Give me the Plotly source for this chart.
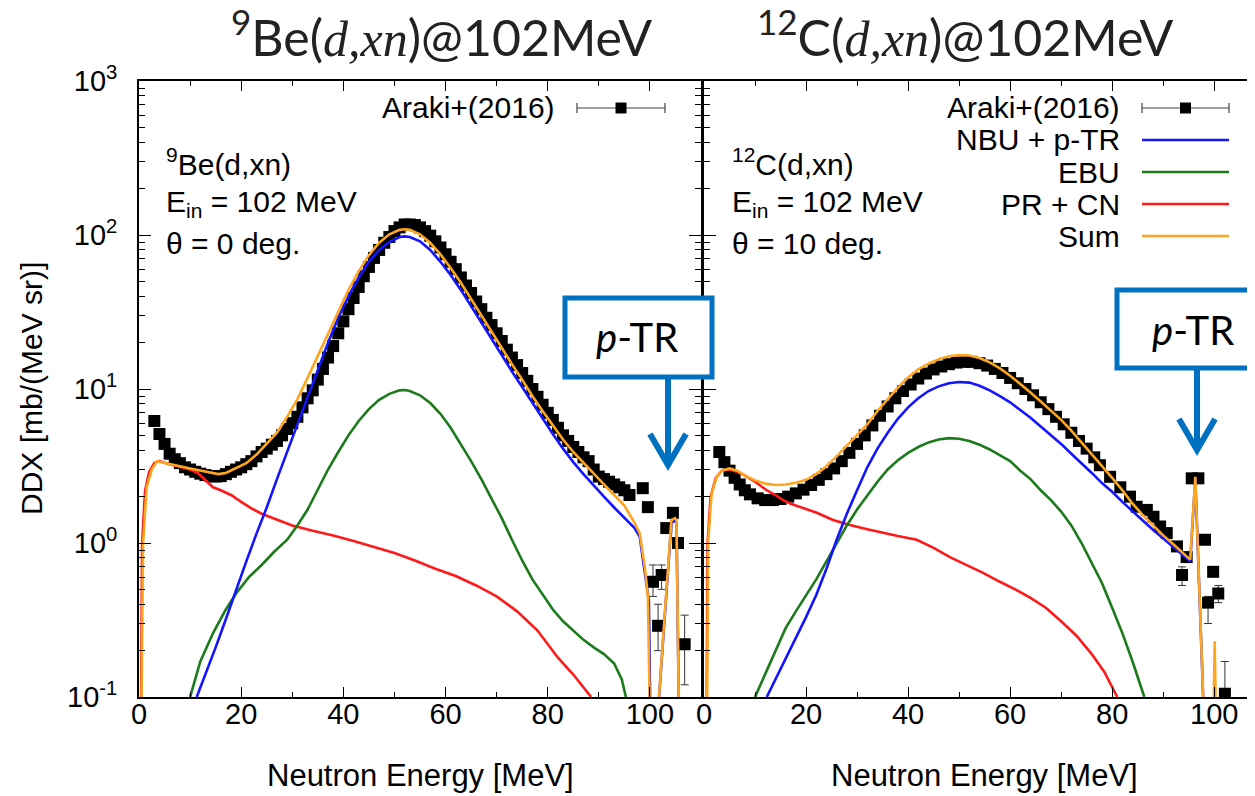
import plotly.graph_objects as go

# ---------------- data: 9Be(d,xn) 0 deg ----------------
be_exp_E = [3, 4, 5, 6, 7, 8, 9, 10, 11, 12, 13, 14, 15, 16, 17, 18, 19, 20, 21, 22, 23, 24, 25, 26,
            27, 28, 29, 30, 31, 32, 33, 34, 35, 36, 37, 38, 39, 40, 41, 42, 43, 44, 45, 46, 47, 48,
            49, 50, 51, 52, 53, 54, 55, 56, 57, 58, 59, 60, 61, 62, 63, 64, 65, 66, 67, 68, 69, 70,
            71, 72, 73, 74, 75, 76, 77, 78, 79, 80, 81, 82, 83, 84, 85, 86, 87, 88, 89, 90, 91, 92,
            93, 94, 95, 96, 98.6, 99.6, 103.2, 104.5, 105.5]
be_exp_V = [6.2, 5.1, 4.4, 3.8, 3.5, 3.3, 3.1, 3.0, 2.9, 2.82, 2.76, 2.72, 2.7, 2.72, 2.8, 2.9,
            3.0, 3.1, 3.25, 3.4, 3.65, 3.9, 4.1, 4.35, 4.6, 5.0, 5.5, 6.0, 6.6, 7.6, 8.7, 9.8,
            11.5, 13.5, 16, 19, 23, 27.5, 33, 39, 46, 54, 62, 71, 80, 89, 97, 106, 112, 117,
            117, 116, 112, 106, 99, 91, 83, 75, 67, 60, 53, 47, 42, 37, 33, 29, 26, 23, 20.5,
            18, 16, 14.3, 12.7, 11.3, 10, 8.9, 7.9, 7.0, 6.3, 5.6, 5.0, 4.6, 4.2, 3.9, 3.6, 3.4,
            3.0, 2.7, 2.6, 2.5, 2.4, 2.3, 2.2, 2.05, 2.27, 1.71, 1.25, 1.57, 1.0]
be_err_E = [100.6, 101.6, 102.3, 106.8]
be_err_V = [0.56, 0.29, 0.62, 0.22]
be_err_hi = [0.72, 0.40, 0.72, 0.34]
be_err_lo = [0.45, 0.20, 0.50, 0.12]

be_sum_E = [0.3, 0.8, 1.5, 2.5, 3.5, 4.5, 6, 8, 10, 12, 14, 15.5, 17, 19, 21, 23, 25, 27, 29, 31, 33,
            35, 37, 39, 41, 43, 45, 47, 49, 51, 52, 53, 55, 57, 59, 61, 63, 65, 67, 69, 71, 73, 75,
            77, 79, 81, 83, 85, 87, 89, 91, 93, 95, 97, 98, 99, 99.6, 100.3, 104.2, 104.9, 105.2, 105.9]
be_sum_V = [0.02, 1.0, 2.3, 3.0, 3.4, 3.35, 3.25, 3.15, 3.05, 2.95, 2.85, 2.8, 2.85, 3.05, 3.3, 3.75,
            4.4, 5.2, 6.6, 8.6, 11.8, 16.5, 23, 32, 44, 58, 74, 89, 101, 108, 109, 108, 101, 89, 75,
            61, 49, 38.5, 30, 23.5, 18.5, 14.5, 11.5, 9.0, 7.2, 5.8, 4.7, 3.9, 3.3, 2.8, 2.4, 2.05,
            1.75, 1.35, 1.16, 0.70, 0.45, 0.02, 1.41, 1.45, 1.4, 0.02]

be_nbu_E = [11.3, 13, 15, 17, 19, 21, 23, 25, 27, 29, 31, 33, 35, 37, 39, 41, 43, 45, 47, 49, 51, 52,
            53, 55, 57, 59, 61, 63, 65, 67, 69, 71, 73, 75, 77, 79, 81, 83, 85, 87, 89, 91, 93, 95,
            97, 98, 99, 99.8, 100.3, 104.2, 104.9, 105.2, 105.9]
be_nbu_V = [0.1, 0.14, 0.21, 0.32, 0.5, 0.76, 1.15, 1.7, 2.6, 3.9, 6.0, 9.0, 13.5, 20, 29, 40, 53,
            67, 80, 90, 97, 98, 97, 91, 80, 67, 55, 44, 34.5, 27, 21, 16.5, 13, 10.3, 8.1, 6.4, 5.1,
            4.1, 3.35, 2.8, 2.35, 2.0, 1.7, 1.45, 1.25, 1.1, 0.65, 0.42, 0.02, 1.35, 1.4, 1.35, 0.02]

be_ebu_E = [10, 12, 14.5, 17, 19, 21.5, 24, 26.5, 29, 31, 33, 35, 37, 39, 41, 43, 45, 47, 49, 51, 52,
            53, 55, 57, 59, 61, 63, 65, 67, 69, 71, 73, 75, 77, 79, 81, 83, 85, 87, 89, 91, 93, 94.5, 95.3]
be_ebu_V = [0.1, 0.17, 0.26, 0.37, 0.47, 0.6, 0.72, 0.88, 1.05, 1.3, 1.65, 2.2, 3.0, 3.9, 5.0, 6.2,
            7.4, 8.5, 9.3, 9.8, 9.85, 9.7, 9.1, 8.1, 6.9, 5.6, 4.4, 3.4, 2.6, 1.95, 1.45, 1.05, 0.77,
            0.58, 0.46, 0.37, 0.31, 0.27, 0.235, 0.21, 0.19, 0.165, 0.13, 0.1]

be_pr_E = [0.3, 0.6, 1.2, 2.0, 3.0, 4.0, 6, 8, 10, 11.5, 13, 14.5, 16, 18, 20, 22, 24, 27, 30, 34, 38,
           42, 46, 50, 54, 58, 62, 66, 70, 74, 78, 82, 85, 88.5]
be_pr_V = [0.02, 1.0, 2.2, 2.9, 3.3, 3.4, 3.25, 3.13, 3.0, 2.85, 2.55, 2.3, 2.2, 2.05, 1.85, 1.68,
           1.55, 1.42, 1.3, 1.2, 1.12, 1.03, 0.94, 0.86, 0.77, 0.68, 0.61, 0.53, 0.45, 0.36, 0.27,
           0.18, 0.14, 0.1]

# ---------------- data: 12C(d,xn) 10 deg ----------------
c_exp_E = [3.0, 4.0, 5.0, 6.0, 7.0, 8.0, 9.0, 10.5, 12.0, 13.5, 15.0, 16.5, 18.0, 19.5, 21.0, 22.5,
           24.0, 25.5, 27.0, 28.5, 30.0, 31.5, 33.0, 34.5, 36.0, 37.5, 39.0, 40.5, 42.0, 43.5, 45.0,
           46.5, 48.0, 49.5, 51.0, 52.5, 54.0, 55.5, 57.0, 58.5, 60.0, 61.5, 63.0, 64.5, 66.0, 67.5,
           69.0, 70.5, 72.0, 73.5, 75.0, 76.5, 77.6, 79.6, 81.6, 83.5, 84.8, 86.8, 88.1, 89.4, 90.7,
           92.7, 94.6, 95.6, 96.9, 98.2, 99.8]
c_exp_V = [3.9, 3.35, 2.95, 2.65, 2.4, 2.2, 2.07, 1.95, 1.9, 1.9, 1.93, 2.0, 2.1, 2.22, 2.38, 2.57,
           2.8, 3.05, 3.4, 3.85, 4.4, 5.0, 5.8, 6.7, 7.7, 8.7, 9.7, 10.7, 11.7, 12.6, 13.4,
           14.0, 14.5, 14.85, 15.0, 15.0, 14.7, 14.2, 13.5, 12.7, 11.8, 10.9, 10.0, 9.1, 8.2, 7.4,
           6.6, 5.9, 5.2, 4.6, 4.1, 3.6, 3.2, 2.69, 2.3, 2.0, 1.72, 1.64, 1.48, 1.28, 1.16,
           0.95, 0.81, 2.63, 2.63, 1.05, 0.65]
c_err_E = [93.7, 98.8, 100.8, 102.1]
c_err_V = [0.62, 0.41, 0.47, 0.105]
c_err_hi = [0.70, 0.45, 0.53, 0.17]
c_err_lo = [0.53, 0.30, 0.41, 0.09]

c_sum_E = [0.5, 0.8, 1.5, 2.5, 3.5, 5, 6.5, 8, 10, 12, 14, 16, 18, 20, 22, 24, 26, 28, 30, 32, 34, 36,
           38, 40, 42, 44, 46, 48, 50, 52, 54, 56, 58, 60, 62, 64, 66, 68, 70, 72, 74, 76, 78, 80, 82,
           84, 86, 88, 90, 92, 94, 95.3, 96.3, 98.6, 99.6, 100.1, 100.6]
c_sum_V = [0.02, 1.0, 2.1, 2.7, 2.95, 3.05, 2.95, 2.75, 2.55, 2.43, 2.38, 2.4, 2.46, 2.57, 2.8, 3.15,
           3.65, 4.3, 5.0, 5.9, 7.2, 8.6, 10.2, 11.9, 13.4, 14.6, 15.6, 16.3, 16.6, 16.5, 15.9, 14.9,
           13.6, 12.2, 10.8, 9.5, 8.3, 7.25, 6.3, 5.36, 4.5, 3.8, 3.15, 2.65, 2.2, 1.8, 1.52, 1.3,
           1.12, 0.98, 0.85, 0.78, 2.69, 0.02, 0.02, 0.23, 0.02]

c_nbu_E = [12.3, 14, 16, 18, 20, 22, 24, 26, 28, 30, 32, 34, 36, 38, 40, 42, 44, 46, 48, 50, 52, 54,
           56, 58, 60, 62, 64, 66, 68, 70, 72, 74, 76, 78, 80, 82, 84, 86, 88, 90, 92, 94, 95.3, 96.3, 98.6]
c_nbu_V = [0.1, 0.13, 0.18, 0.24, 0.33, 0.46, 0.68, 1.05, 1.55, 2.2, 3.1, 4.1, 5.2, 6.4, 7.6, 8.7,
           9.7, 10.4, 10.9, 11.1, 11.0, 10.5, 9.8, 9.0, 8.2, 7.3, 6.5, 5.7, 5.0, 4.4, 3.8, 3.3, 2.85,
           2.45, 2.15, 1.85, 1.6, 1.4, 1.22, 1.07, 0.95, 0.83, 0.76, 2.6, 0.02]

c_ebu_E = [10, 12, 14, 16, 18, 20, 22, 24, 26, 28, 30, 32, 34, 36, 38, 40, 42, 44, 46, 48, 50, 52, 54,
           56, 58, 60, 62, 64, 66, 68, 70, 72, 74, 76, 78, 80, 82, 84, 86.3]
c_ebu_V = [0.1, 0.14, 0.2, 0.28, 0.36, 0.46, 0.58, 0.76, 1.0, 1.3, 1.65, 2.05, 2.5, 3.0, 3.45, 3.85,
           4.2, 4.5, 4.7, 4.8, 4.75, 4.6, 4.35, 4.05, 3.7, 3.4, 2.95, 2.6, 2.2, 1.9, 1.6, 1.3, 1.0,
           0.75, 0.55, 0.38, 0.26, 0.17, 0.1]

c_pr_E = [0.4, 0.7, 1.3, 2.3, 3.5, 5, 6.5, 8, 10, 12.3, 14, 15.5, 17, 18.8, 22.1, 25.3, 28.6, 32, 35.1,
          38, 41.7, 45, 48.2, 51.5, 54.7, 58, 61, 64, 67, 70, 73, 76, 78.5, 81]
c_pr_V = [0.02, 1.0, 2.0, 2.65, 2.95, 3.0, 2.9, 2.75, 2.5, 2.2, 2.05, 1.9, 1.8, 1.72, 1.57, 1.41, 1.31,
          1.23, 1.16, 1.11, 1.05, 0.93, 0.81, 0.72, 0.64, 0.56, 0.5, 0.44, 0.38, 0.31, 0.25, 0.19,
          0.145, 0.1]

y_tickvals = [0.1, 1, 10, 100, 1000]
y_ticktext = ["10<sup>-1</sup>", "10<sup>0</sup>", "10<sup>1</sup>", "10<sup>2</sup>", "10<sup>3</sup>"]
legend_names = ["Araki+(2016)", "NBU + p-TR", "EBU", "PR + CN", "Sum"]

# ---------------- styling ----------------
# the page body has an 8 px margin: target pixel = figure pixel + OFF
OFF = 8
W, H = 1255 - OFF, 796 - OFF
ML, MR, MT, MB = 139 - OFF, 0, 81 - OFF, 796 - 697
PW, PH = W - ML - MR, H - MT - MB
C_NBU, C_EBU, C_PR, C_SUM = "#1414ff", "#1b7b1b", "#ff1a1a", "#ffa620"
BOXC = "#0070c0"
FONT = "Liberation Sans"


def px(x):
    return (x - OFF - ML) / PW


def py(y):
    return (H - MB - (y - OFF)) / PH


fig = go.Figure()

panels = [
    ("x", "y", be_exp_E, be_exp_V, be_err_E, be_err_V, be_err_hi, be_err_lo,
     [(be_pr_E, be_pr_V, C_PR), (be_ebu_E, be_ebu_V, C_EBU), (be_nbu_E, be_nbu_V, C_NBU),
      (be_sum_E, be_sum_V, C_SUM)]),
    ("x2", "y2", c_exp_E, c_exp_V, c_err_E, c_err_V, c_err_hi, c_err_lo,
     [(c_pr_E, c_pr_V, C_PR), (c_ebu_E, c_ebu_V, C_EBU), (c_nbu_E, c_nbu_V, C_NBU),
      (c_sum_E, c_sum_V, C_SUM)]),
]

for xa, ya, eE, eV, rE, rV, rHi, rLo, curves in panels:
    fig.add_trace(go.Scatter(x=eE, y=eV, xaxis=xa, yaxis=ya, mode="markers",
                             marker=dict(symbol="square", size=12, color="black"),
                             showlegend=False, cliponaxis=True))
    fig.add_trace(go.Scatter(x=rE, y=rV, xaxis=xa, yaxis=ya, mode="markers",
                             marker=dict(symbol="square", size=12, color="black"),
                             error_y=dict(type="data", symmetric=False,
                                          array=[h - v for h, v in zip(rHi, rV)],
                                          arrayminus=[v - l for l, v in zip(rLo, rV)],
                                          color="#333333", thickness=1, width=4),
                             showlegend=False, cliponaxis=True))
    for cx, cy, col in curves:
        fig.add_trace(go.Scatter(x=cx, y=cy, xaxis=xa, yaxis=ya, mode="lines",
                                 line=dict(color=col, width=2.6), showlegend=False))

minor_log = [m * 10 ** e for e in range(-1, 3) for m in range(2, 10)]

xcommon = dict(range=[0, 110], dtick=20, tick0=0, ticks="inside", ticklen=10, tickwidth=1.3,
               tickcolor="black", showline=True, linecolor="black", linewidth=1.6, mirror="ticks",
               showgrid=False, zeroline=False, tickfont=dict(size=29, color="black"),
               ticklabelstandoff=-10, automargin=False,
               minor=dict(ticks="inside", ticklen=5, dtick=10, tickcolor="black", tickwidth=1.3))
ycommon = dict(type="log", range=[-1, 3], tickvals=y_tickvals, ticktext=y_ticktext,
               ticks="inside", ticklen=12, tickwidth=1.3, tickcolor="black", showline=True,
               linecolor="black", linewidth=1.6, showgrid=False, zeroline=False,
               tickfont=dict(size=29, color="black"), automargin=False,
               minor=dict(ticks="inside", ticklen=6, tickmode="array", tickvals=minor_log,
                          tickcolor="black", tickwidth=1.3))

fig.update_layout(
    width=W, height=H, margin=dict(l=ML, r=MR, t=MT, b=MB, autoexpand=False),
    paper_bgcolor="white", plot_bgcolor="white",
    font=dict(family=FONT, color="black"),
    xaxis=dict(domain=[0, px(701)], **xcommon),
    xaxis2=dict(domain=[px(704), 1], anchor="y2", **{**xcommon, "range": [0, 108]}),
    yaxis=dict(domain=[0, 1], mirror="ticks", ticklabelstandoff=14, **ycommon),
    yaxis2=dict(domain=[0, 1], anchor="x2", mirror=False, showticklabels=False, **ycommon),
)

shapes = []
ann = []
TXT = dict(size=30, color="black", family=FONT)

# axis titles
for cx in (420, 984):
    ann.append(dict(x=px(cx), y=py(775), xref="paper", yref="paper", text="Neutron Energy [MeV]",
                    showarrow=False, xanchor="center", yanchor="middle",
                    font=dict(size=31, color="black", family=FONT)))
ann.append(dict(x=px(31), y=py(389), xref="paper", yref="paper", text="DDX [mb/(MeV sr)]",
                showarrow=False, xanchor="center", yanchor="middle", textangle=-90, font=TXT))

# legend rows
ann.append(dict(x=px(557), y=py(108), xref="paper", yref="paper", text=legend_names[0],
                showarrow=False, xanchor="right", yanchor="middle", font=TXT))
rows_y = [108, 140, 172, 204, 236]
for i, name in enumerate(legend_names):
    ann.append(dict(x=px(1122), y=py(rows_y[i]), xref="paper", yref="paper", text=name,
                    showarrow=False, xanchor="right", yanchor="middle", font=TXT))


def errsym(x0, x1, yy):
    xm = (x0 + x1) / 2
    return [dict(type="line", xref="paper", yref="paper", x0=px(x0), x1=px(x1), y0=py(yy), y1=py(yy),
                 line=dict(color="#444444", width=1.2)),
            dict(type="line", xref="paper", yref="paper", x0=px(x0), x1=px(x0), y0=py(yy - 5),
                 y1=py(yy + 5), line=dict(color="#444444", width=1.2)),
            dict(type="line", xref="paper", yref="paper", x0=px(x1), x1=px(x1), y0=py(yy - 5),
                 y1=py(yy + 5), line=dict(color="#444444", width=1.2)),
            dict(type="rect", xref="paper", yref="paper", x0=px(xm - 5.5), x1=px(xm + 5.5),
                 y0=py(yy + 5.5), y1=py(yy - 5.5), fillcolor="black", line=dict(width=0))]


shapes += errsym(577, 665, 108)
shapes += errsym(1142, 1229, rows_y[0])
for i, col in enumerate([C_NBU, C_EBU, C_PR, C_SUM]):
    shapes.append(dict(type="line", xref="paper", yref="paper", x0=px(1142), x1=px(1229),
                       y0=py(rows_y[i + 1]), y1=py(rows_y[i + 1]), line=dict(color=col, width=2.6)))

# reaction labels
for x0, lines in [(164, ["<sup>9</sup>Be(d,xn)", "E<sub>in</sub> = 102 MeV", "θ = 0 deg."]),
                  (730, ["<sup>12</sup>C(d,xn)", "E<sub>in</sub> = 102 MeV", "θ = 10 deg."])]:
    for yy, t in zip([162, 203, 243], lines):
        ann.append(dict(x=px(x0), y=py(yy), xref="paper", yref="paper", text=t, showarrow=False,
                        xanchor="left", yanchor="middle", font=TXT))

# titles
SERIF = "font-family:'Liberation Serif'"
for cx, nuc in [(441, "<sup>9</sup>Be"), (965, "<sup>12</sup>C")]:
    ann.append(dict(x=px(cx), y=py(34), xref="paper", yref="paper",
                    text=nuc + "(<span style=\"" + SERIF + "\"><i>d,xn</i></span>)@102MeV",
                    showarrow=False, xanchor="center", yanchor="middle",
                    font=dict(size=50, color="#222222", family="Lato")))

# p-TR boxes with arrows
for (bx0, bx1, by0, by1, ax, ay0, ay1, tx, ty) in [
        (565, 712, 298, 377, 668, 377, 465, 637, 337),
        (1117, 1290, 290, 368, 1197, 368, 450, 1193, 330)]:
    shapes.append(dict(type="rect", xref="paper", yref="paper", x0=px(bx0), x1=px(bx1),
                       y0=py(by1), y1=py(by0), fillcolor="white",
                       line=dict(color=BOXC, width=5), layer="above"))
    shapes.append(dict(type="line", xref="paper", yref="paper", x0=px(ax), x1=px(ax),
                       y0=py(ay0), y1=py(ay1 - 2), line=dict(color=BOXC, width=6), layer="above"))
    shapes.append(dict(type="path", xref="paper", yref="paper",
                       path=f"M {px(ax - 18)} {py(ay1 - 31)} L {px(ax)} {py(ay1)} L {px(ax + 18)} {py(ay1 - 31)}",
                       line=dict(color=BOXC, width=6), layer="above"))
    ann.append(dict(x=px(tx), y=py(ty), xref="paper", yref="paper", text="<i>p</i>-TR",
                    showarrow=False, xanchor="center", yanchor="middle",
                    font=dict(size=40, color="black", family="Lato")))

fig.update_layout(shapes=shapes, annotations=ann)
fig.write_html("out.html")
